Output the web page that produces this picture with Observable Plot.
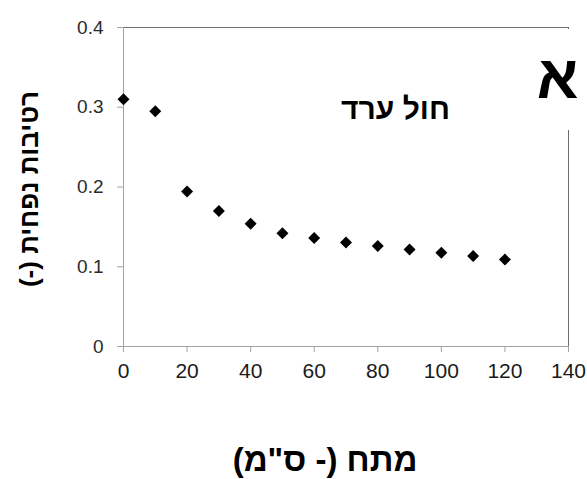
<!DOCTYPE html>
<html>
<head>
<meta charset="utf-8">
<script src="https://cdn.jsdelivr.net/npm/d3@7"></script>
<script src="https://cdn.jsdelivr.net/npm/@observablehq/plot@0.6"></script>
<style>
  html, body { margin: 0; padding: 0; background: #fff; }
</style>
</head>
<body>
<div id="chart"></div>
<script>
// Data
const suction = [0, 10, 20, 30, 40, 50, 60, 70, 80, 90, 100, 110, 120];
const moisture = [0.310, 0.295, 0.1945, 0.170, 0.154, 0.142, 0.136, 0.1305, 0.126, 0.1217, 0.1176, 0.1134, 0.109];
const xTicks = [0, 20, 40, 60, 80, 100, 120, 140];
const yTicks = [0, 0.1, 0.2, 0.3, 0.4];
const xLabel = 'מתח (- ס"מ)';
const yLabel = "רטיבות נפחית (-)";
const soilLabel = "חול ערד";
const panelLabel = "א";

const points = suction.map((s, i) => ({suction: s, moisture: moisture[i]}));

const hebFont = "'Liberation Sans', Arial, 'DejaVu Sans', sans-serif";

const chart = Plot.plot({
  width: 587,
  height: 479,
  marginLeft: 123,
  marginRight: 19,
  marginTop: 27,
  marginBottom: 133,
  style: {fontFamily: "'Liberation Sans', Arial, sans-serif", background: "#fff", color: "#000"},
  x: {domain: [0, 140]},
  y: {domain: [0, 0.4]},
  marks: [
    Plot.frame({stroke: "#6f6f6f"}),
    Plot.text([panelLabel], {
      text: d => d, frameAnchor: "top-left", dx: 434, dy: 70,
      textAnchor: "middle", lineAnchor: "bottom",
      fontSize: 61, fontWeight: "bold", fontFamily: hebFont,
      fill: "#000", stroke: "#fff", strokeWidth: 64
    }),
    Plot.ruleX([0], {stroke: "#a3a3a3"}),
    Plot.ruleY([0], {stroke: "#a3a3a3"}),
    Plot.axisX({
      ticks: xTicks, tickSize: 6, tickPadding: 11, tickFormat: d => String(d),
      stroke: "#a3a3a3", fill: "#1a1a1a", fontSize: 21, label: null
    }),
    Plot.axisY({
      ticks: yTicks, tickSize: 6, tickPadding: 14, tickFormat: d => String(d),
      stroke: "#a3a3a3", fill: "#2a2a2a", fontSize: 19, label: null
    }),
    Plot.dot(points, {
      x: "suction", y: "moisture", symbol: "diamond2", r: 5.4,
      fill: "#000", stroke: "none"
    }),
    Plot.text([soilLabel], {
      text: d => d, frameAnchor: "top-left", dx: 272, dy: 91,
      textAnchor: "middle", lineAnchor: "bottom",
      fontSize: 30, fontWeight: "bold", fontFamily: hebFont, fill: "#000"
    }),
    Plot.text([xLabel], {
      text: d => d, frameAnchor: "bottom", dx: -21, dy: 124,
      textAnchor: "middle", lineAnchor: "bottom",
      fontSize: 33, fontWeight: "bold", fontFamily: hebFont, fill: "#000"
    }),
    Plot.text([yLabel], {
      text: d => d, frameAnchor: "left", dx: -94, dy: 2,
      textAnchor: "middle", lineAnchor: "middle", rotate: -90,
      fontSize: 26, fontWeight: "bold", fontFamily: hebFont, fill: "#000"
    })
  ]
});

// Hebrew labels are right-to-left text
chart.querySelectorAll("text").forEach(t => {
  if (/[\u0590-\u05FF]/.test(t.textContent)) {
    t.setAttribute("direction", "rtl");
    t.setAttribute("unicode-bidi", "embed");
  }
});

document.getElementById("chart").appendChild(chart);
</script>
</body>
</html>
